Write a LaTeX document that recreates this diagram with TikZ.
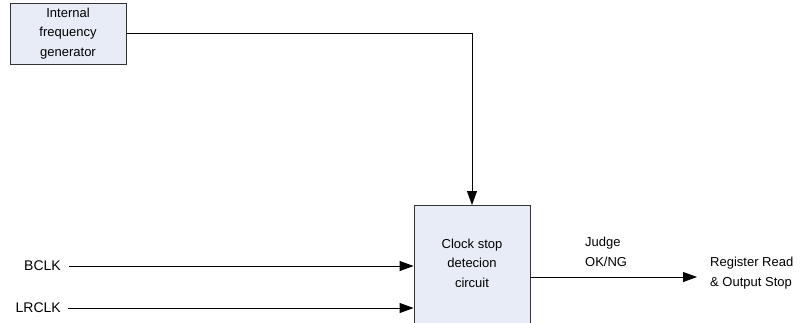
\documentclass[tikz,border=0pt]{standalone}
\usepackage{fontspec}
\setmainfont{Liberation Sans}
\usetikzlibrary{arrows.meta,calc}
\begin{document}
\begin{tikzpicture}[x=1pt,y=-1pt,
  blk/.style={draw=black!80,fill=boxfill,line width=0.8pt,align=center,inner sep=0pt},
  lbl/.style={font=\fontsize{13}{19.5}\selectfont,inner sep=0pt,align=left},
  sig/.style={font=\fontsize{14}{16}\selectfont,inner sep=0pt},
  wire/.style={line width=0.8pt,-{Triangle[length=14pt,width=10pt]}}]
\definecolor{boxfill}{HTML}{E7ECF7}
\path[use as bounding box] (0,0) rectangle (810,322);
\clip (0,0) rectangle (810,322);
\node[blk,minimum width=116,minimum height=61,font=\fontsize{13}{19.5}\selectfont,text width=110] (gen) at (68,33.5) {Internal\\frequency\\generator};
\node[blk,minimum width=116,minimum height=140,anchor=north] (cb) at (472,205) {};
\node[lbl,align=center] (cbt) at (472,263) {Clock stop\\detecion\\circuit};
\node[sig,anchor=east] (bclk) at (61,266) {BCLK};
\node[sig,anchor=east] (lrclk) at (61,308) {LRCLK};
\node[lbl,anchor=west] (judge) at (585,252) {Judge\\OK/NG};
\node[lbl,anchor=west] (reg) at (710,273) {Register Read\\\& Output Stop};
\coordinate (gout) at (gen.east |- 0,33);
\coordinate (top) at (cb.north);
\draw[wire] (gout) -| (top);
\draw[wire] ($(bclk.east)+(8,0)$) -- (bclk.east -| cb.west);
\draw[wire] ($(lrclk.east)+(7,0)$) -- (lrclk.east -| cb.west);
\coordinate (cbo) at (cb.east |- 0,277);
\coordinate (regin) at (697,277);
\draw[wire] (cbo) -- (regin);
\end{tikzpicture}
\end{document}
